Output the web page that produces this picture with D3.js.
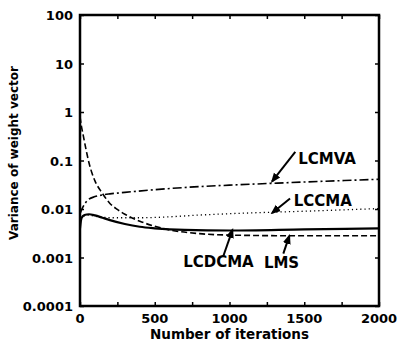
<!DOCTYPE html>
<html>
<head>
<meta charset="utf-8">
<script src="https://cdn.jsdelivr.net/npm/d3@7"></script>
<style>
  html, body { margin: 0; padding: 0; background: #fff; overflow: hidden; }
  svg { display: block; }
  svg text { font-family: "DejaVu Sans", sans-serif; font-weight: bold; fill: #000; }
</style>
</head>
<body>
<div id="chart"></div>
<script>
// values
const lmsIter  = [0, 10, 20, 40, 60, 80, 100, 150, 200, 250, 300, 400, 500, 600, 800, 1000, 1500, 2000];
const lmsVar   = [0.8, 0.5, 0.35, 0.17, 0.09, 0.055, 0.038, 0.021, 0.013, 0.0098, 0.0078, 0.0056, 0.0044, 0.0037, 0.0031, 0.0029, 0.0028, 0.0028];

const lcmvaIter = [0, 20, 50, 100, 150, 200, 300, 500, 800, 1000, 1500, 2000];
const lcmvaVar  = [0.008, 0.011, 0.015, 0.018, 0.0195, 0.0205, 0.022, 0.025, 0.029, 0.031, 0.036, 0.041];

const lccmaIter = [0, 20, 50, 100, 150, 200, 400, 600, 800, 1000, 1500, 2000];
const lccmaVar  = [0.005, 0.007, 0.0075, 0.0071, 0.0068, 0.0066, 0.0066, 0.0069, 0.0075, 0.008, 0.009, 0.0102];

const lcdcmaIter = [0, 10, 30, 60, 100, 150, 200, 300, 400, 500, 700, 1000, 1500, 2000];
const lcdcmaVar  = [0.004, 0.0065, 0.0075, 0.0078, 0.0074, 0.0066, 0.0059, 0.0049, 0.0043, 0.004, 0.0037, 0.0036, 0.0038, 0.004];

const xTicks = [0, 500, 1000, 1500, 2000];
const xMinor = [0, 250, 500, 750, 1000, 1250, 1500, 1750, 2000];
const yTicks = [0.0001, 0.001, 0.01, 0.1, 1, 10, 100];
const yLabels = ["0.0001", "0.001", "0.01", "0.1", "1", "10", "100"];

// labels: text anchor point and arrow (tail -> head) in data units
const notes = [
  { name: "LCMVA",  text: [1460, 0.083],  tail: [1440, 0.15],   head: [1285, 0.037] },
  { name: "LCCMA",  text: [1430, 0.0115], tail: [1405, 0.0165], head: [1285, 0.0083] },
  { name: "LCDCMA", text: [690, 0.00065], tail: [960, 0.0011],  head: [1020, 0.0037] },
  { name: "LMS",    text: [1230, 0.0006], tail: [1360, 0.0012], head: [1400, 0.0028] }
];

const width = 399, height = 348;
const margin = { top: 15, right: 20, bottom: 42, left: 80 };
const innerWidth = width - margin.left - margin.right;
const innerHeight = height - margin.top - margin.bottom;

const svg = d3.select("#chart").append("svg")
    .attr("width", width)
    .attr("height", height);

svg.append("defs").append("marker")
    .attr("id", "arrow")
    .attr("viewBox", "0 0 10 10")
    .attr("refX", 8).attr("refY", 5)
    .attr("markerWidth", 5).attr("markerHeight", 5)
    .attr("orient", "auto")
    .append("path")
    .attr("d", "M0,1 L10,5 L0,9 Z")
    .attr("fill", "#000");

const g = svg.append("g")
    .attr("transform", `translate(${margin.left}, ${margin.top})`);

// scales map straight to page pixels so labels can sit in the svg root
const x = d3.scaleLinear().domain([0, 2000]).range([margin.left, margin.left + innerWidth]);
const y = d3.scaleLog().domain([0.0001, 100]).range([margin.top + innerHeight, margin.top]);
const xi = x.copy().range([0, innerWidth]);
const yi = y.copy().range([innerHeight, 0]);

// Axes with inward ticks
g.append("g")
    .attr("transform", `translate(0, ${innerHeight})`)
    .call(d3.axisBottom(xi).tickValues(xMinor).tickSize(-4).tickFormat(""));
g.append("g")
    .call(d3.axisTop(xi).tickValues(xMinor).tickSize(-4).tickFormat(""));
g.append("g")
    .call(d3.axisLeft(yi).tickValues(yTicks).tickSize(-4).tickFormat(""));
g.append("g")
    .attr("transform", `translate(${innerWidth}, 0)`)
    .call(d3.axisRight(yi).tickValues(yTicks).tickSize(-4).tickFormat(""));
g.selectAll(".domain").remove();
g.selectAll(".tick line").attr("stroke", "#000").attr("stroke-width", 1.5);

// frame
g.append("rect")
    .attr("width", innerWidth)
    .attr("height", innerHeight)
    .attr("fill", "none")
    .attr("stroke", "#000")
    .attr("stroke-width", 2.5);

// tick labels
svg.selectAll(".xlab")
    .data(xTicks)
    .join("text")
    .attr("class", "xlab")
    .attr("x", d => x(d))
    .attr("y", margin.top + innerHeight + 17)
    .attr("text-anchor", "middle")
    .style("font-size", "13px")
    .text(d => d);

svg.selectAll(".ylab")
    .data(yTicks)
    .join("text")
    .attr("class", "ylab")
    .attr("x", margin.left - 7)
    .attr("y", d => y(d) + 5)
    .attr("text-anchor", "end")
    .style("font-size", "13px")
    .text((d, i) => yLabels[i]);

// axis labels
svg.append("text")
    .attr("x", margin.left + innerWidth / 2)
    .attr("y", height - 9)
    .attr("text-anchor", "middle")
    .style("font-size", "13.5px")
    .text("Number of iterations");

const yLabX = 18, yLabY = margin.top + 138;
svg.append("text")
    .attr("x", yLabX)
    .attr("y", yLabY)
    .attr("transform", `rotate(-90, ${yLabX}, ${yLabY})`)
    .attr("text-anchor", "middle")
    .style("font-size", "12px")
    .text("Variance of weight vector");

// curves
const line = d3.line()
    .x(d => x(d[0]))
    .y(d => y(d[1]))
    .curve(d3.curveMonotoneX);

const series = [
  { it: lmsIter, v: lmsVar, dash: "6,3", w: 1.6 },
  { it: lcmvaIter, v: lcmvaVar, dash: "9,3,2,3", w: 1.6 },
  { it: lccmaIter, v: lccmaVar, dash: "1.2,3", w: 1.3 },
  { it: lcdcmaIter, v: lcdcmaVar, dash: null, w: 2.2 }
];

series.forEach(s => {
  svg.append("path")
      .datum(d3.zip(s.it, s.v))
      .attr("fill", "none")
      .attr("stroke", "#000")
      .attr("stroke-width", s.w)
      .attr("stroke-dasharray", s.dash)
      .attr("d", line);
});

// annotations
notes.forEach(n => {
  svg.append("line")
      .attr("x1", x(n.tail[0])).attr("y1", y(n.tail[1]))
      .attr("x2", x(n.head[0])).attr("y2", y(n.head[1]))
      .attr("stroke", "#000")
      .attr("stroke-width", 2)
      .attr("marker-end", "url(#arrow)");
  svg.append("text")
      .attr("x", x(n.text[0]))
      .attr("y", y(n.text[1]))
      .style("font-size", "15px")
      .text(n.name);
});
</script>
</body>
</html>
